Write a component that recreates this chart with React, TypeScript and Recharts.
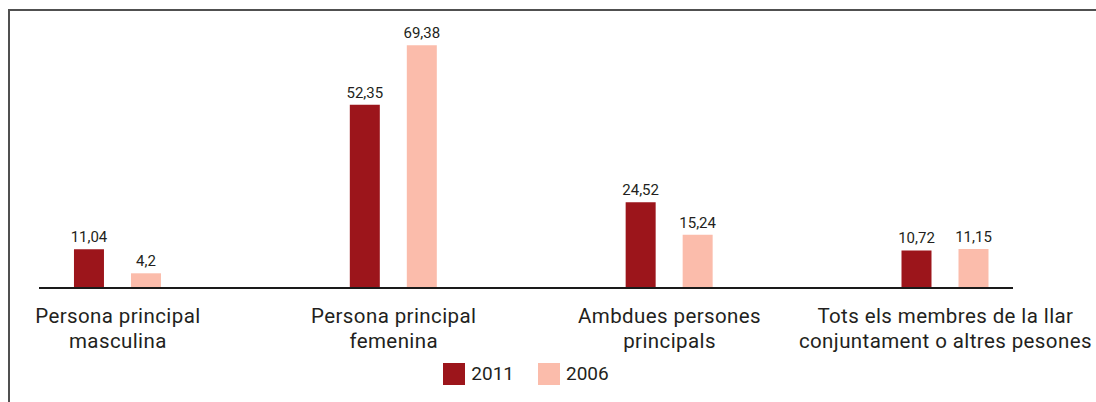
import { BarChart, Bar, XAxis, YAxis, Legend, LabelList } from 'recharts';

const categories = [
  ['Persona principal', 'masculina'],
  ['Persona principal', 'femenina'],
  ['Ambdues persones', 'principals'],
  ['Tots els membres de la llar', 'conjuntament o altres pesones'],
];
const values2011 = [11.04, 52.35, 24.52, 10.72];
const values2006 = [4.2, 69.38, 15.24, 11.15];
const seriesNames = ['2011', '2006'];
const colors = ['#9c151b', '#fbbcab'];

const data = categories.map((c, i) => ({
  idx: i,
  name: c.join(' '),
  v2011: values2011[i],
  v2006: values2006[i],
}));

const textColor = '#231f20';

function CategoryTick({ x, y, payload }: any) {
  const lines = categories[payload.value] || [];
  return (
    <text x={x} y={y} textAnchor="middle" fill={textColor} fontSize={20.5} letterSpacing={0.4} fontFamily="Roboto">
      {lines.map((l, i) => (
        <tspan key={i} x={x} dy={i === 0 ? 35 : 25}>
          {l}
        </tspan>
      ))}
    </text>
  );
}

function LegendContent() {
  return (
    <div style={{ display: 'flex', justifyContent: 'center', alignItems: 'center', fontFamily: 'Roboto' }}>
      {seriesNames.map((s, i) => (
        <div key={s} style={{ display: 'flex', alignItems: 'center', marginLeft: i === 0 ? 0 : 24 }}>
          <div style={{ width: 22, height: 22, background: colors[i] }} />
          <span style={{ marginLeft: 6, fontSize: 19, color: textColor }}>{s}</span>
        </div>
      ))}
    </div>
  );
}

const fmt = (v: any) => String(v).replace('.', ',');

export default function App() {
  return (
    <div style={{ position: 'fixed', left: 0, top: 0, width: 1096, height: 402, overflow: 'hidden', background: '#fff' }}>
      <div
        style={{
          position: 'absolute',
          left: 8,
          top: 9,
          width: 1200,
          height: 500,
          borderLeft: '2px solid #505050',
          borderTop: '2px solid #505050',
        }}
      />
      <div style={{ position: 'absolute', left: 0, top: 0 }}>
        <BarChart width={1096} height={402} data={data} barGap={27} margin={{ top: 43, right: 83, bottom: 0, left: 39 }}>
          <XAxis
            dataKey="idx"
            type="number"
            domain={[-0.286, 3.245]}
            ticks={[0, 1, 2, 3]}
            allowDataOverflow
            height={114}
            tickLine={false}
            tickSize={0}
            tickMargin={0}
            axisLine={{ stroke: '#1a1a1a', strokeWidth: 2 }}
            tick={<CategoryTick />}
            interval={0}
          />
          <YAxis hide domain={[0, 70]} />
          <Legend
            verticalAlign="middle"
            align="center"
            content={<LegendContent />}
            wrapperStyle={{ left: 39, width: 974, top: 362 }}
          />
          <Bar dataKey="v2011" name="2011" fill={colors[0]} barSize={30} isAnimationActive={false}>
            <LabelList dataKey="v2011" position="top" offset={7} formatter={fmt} fill={textColor} fontSize={15} fontFamily="Roboto" />
          </Bar>
          <Bar dataKey="v2006" name="2006" fill={colors[1]} barSize={30} isAnimationActive={false}>
            <LabelList dataKey="v2006" position="top" offset={7} formatter={fmt} fill={textColor} fontSize={15} fontFamily="Roboto" />
          </Bar>
        </BarChart>
      </div>
    </div>
  );
}
